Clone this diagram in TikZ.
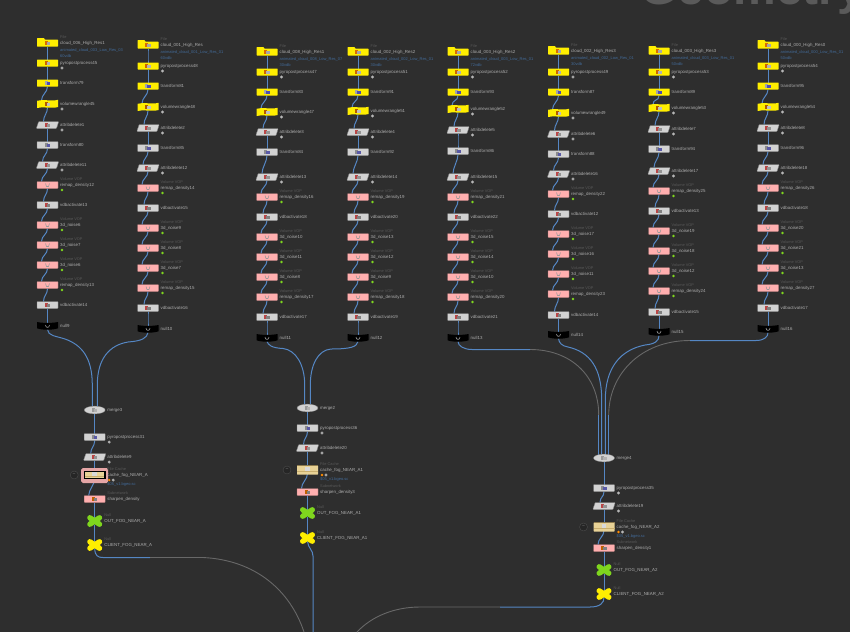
\documentclass[tikz,border=0pt]{standalone}
\usepackage{fontspec}
\setmainfont{Liberation Sans}
\usetikzlibrary{calc}
\catcode`\_=12
\definecolor{bgc}{HTML}{2E2E2E}
\definecolor{wireb}{HTML}{5587C4}
\definecolor{wireg}{HTML}{686868}
\definecolor{yel}{HTML}{FFEE00}
\definecolor{gryn}{HTML}{D2D2D2}
\definecolor{pnk}{HTML}{FFAFAF}
\definecolor{beige}{HTML}{E8D296}
\definecolor{beiged}{HTML}{C9AE6E}
\definecolor{txt}{HTML}{ADADAD}
\definecolor{ttxt}{HTML}{585858}
\definecolor{btxt}{HTML}{426A98}
\definecolor{grn}{HTML}{7FD61E}
\definecolor{ttl}{HTML}{5A5A5A}
\pgfdeclarelayer{bg}
\pgfsetlayers{bg,main}
\tikzset{
  base/.style={inner sep=0pt,outer sep=0pt,minimum width=21pt,minimum height=7pt},
  lab/.style={inner sep=0pt,anchor=west,text=txt,font=\fontsize{4.4}{5}\selectfont},
  tlab/.style={inner sep=0pt,anchor=west,text=ttxt,font=\fontsize{3.9}{5}\selectfont},
  blab/.style={inner sep=0pt,anchor=west,text=btxt,font=\fontsize{4}{5}\selectfont},
  gdot/.style={circle,inner sep=0pt,minimum size=2.6pt,fill=#1},
  wire/.style={draw=wireb,line width=1pt},
  wirefade/.style={draw=wireg,line width=.9pt},
  edge/.style={line width=.4pt,rounded corners=.7pt}
}
\newcommand\ic[2]{\fill[#1] (-2.6,-1.9) rectangle (.4,1.9);\fill[#2] (-.6,-1.2) rectangle (2.6,1.9);}
\newcommand\shfile{\fill[yel,rounded corners=.5pt] (-10.5,-5) -- (-3.5,-5) -- (-2.5,-3.3) -- (10.5,-3.3) -- (10.5,3.5) -- (-10.5,3.5) -- cycle;\ic{orange!85!black}{gray!70}}
\newcommand\shyel{\fill[yel,rounded corners=.5pt] (-10.5,-3.5) rectangle (10.5,3.5);\ic{orange!80!black}{gray!60}}
\newcommand\shtrn{\fill[yel,rounded corners=.5pt] (-10.5,-3.5) rectangle (10.5,3.5);\ic{gray!70}{blue!40!gray}}
\newcommand\shvol{\fill[yel] (-10.5,-3.2) .. controls (-5,-5) and (4,-2.5) .. (10.5,-4.2) -- (10.5,3) .. controls (4,5) and (-5,2.2) .. (-10.5,4) -- cycle;\ic{orange!70!black}{gray!50}}
\newcommand\shgry{\filldraw[fill=gryn,draw=gray,edge] (-10.5,-3.5) rectangle (10.5,3.5);\ic{gray!90}{blue!30!gray}}
\newcommand\shrsl{\filldraw[fill=gryn,draw=gray,edge] (-10.5,-3.5) rectangle (10.5,3.5);\ic{red!45!gray}{gray}}
\newcommand\shatt{\filldraw[fill=gryn,draw=gray,edge] (-8.8,-3.5) -- (11.2,-3.5) -- (9,3.5) -- (-11.2,3.5) -- cycle;\ic{red!45!gray}{gray!85}}
\newcommand\shvop{\filldraw[fill=pnk,draw=pnk!65!black,edge] (-10.5,-3.5) rectangle (10.5,3.5);\draw[gray!80,line width=.6pt] (-2,-1.5) -- (-1,1.5) -- (1,1.5) -- (2,-1.5);}
\newcommand\shsub{\filldraw[fill=pnk,draw=pnk!65!black,edge] (-10.5,-3.5) rectangle (10.5,3.5);\ic{orange!75!black}{gray}}
\newcommand\shnul{\fill[black] (-10.5,-4) .. controls (-5,-2.8) and (5,-2.8) .. (10.5,-4) -- (10.5,2.3) .. controls (5,4.2) and (-5,4.2) .. (-10.5,2.3) -- cycle;\draw[gray!80,line width=.6pt] (-2,-1) .. controls (-2,2.2) and (2,2.2) .. (2,-1);}
\newcommand\shmrg{\filldraw[fill=gryn,draw=gray,line width=.3pt] (0,0) ellipse (10.5 and 3.9);\ic{gray!80}{gray!60}}
\newcommand\shxgr{\draw[grn,line width=5.4pt,line cap=round] (-4.8,-3.2) -- (4.8,3.2) (-4.8,3.2) -- (4.8,-3.2);}
\newcommand\shxyl{\draw[yel,line width=5.4pt,line cap=round] (-4.8,-3.2) -- (4.8,3.2) (-4.8,3.2) -- (4.8,-3.2);}
\newcommand\shcch{\fill[beige,rounded corners=.6pt] (-10.5,-4.6) rectangle (10.5,4.6);\fill[beiged] (-10.5,1.4) rectangle (10.5,2.4);\fill[beiged!70!black] (-10.5,-4.6) rectangle (10.5,-4.1);\fill[gray!30] (-2.4,-3) rectangle (2.4,.8);}
\newcommand\shcsl{\fill[pnk!80!gray,rounded corners=1.6pt] (-13.5,-7) rectangle (13.5,8);\fill[black] (-10.8,-4.4) rectangle (10.8,4.4);\fill[beige] (-9.6,-3.2) rectangle (9.6,3.2);\fill[beiged] (-9.6,1.2) rectangle (9.6,2);\fill[gray!30] (-2.4,-2.6) rectangle (2.4,.6);}
% shape, id, x, y, name, type
\newcommand\NN[7][12.5]{%
  \node[base] (#3) at (#4,#5) {};
  \begin{scope}[shift={(#4,#5)}]\csname sh#2\endcsname\end{scope}
  \node[lab] (#3-n) at (#4+#1,#5) {#6};
  \def\tmpT{#7}\ifx\tmpT\empty\else\node[tlab] (#3-t) at (#4+#1,#5-5.5) {#7};\fi}
\newcommand\GD[1]{\node[circle,draw=gray!70,line width=.5pt,fill=gray!45,inner sep=0pt,minimum size=2.4pt] (#1-d) at ([xshift=14.5pt,yshift=-5pt]#1.center) {};}
\newcommand\GR[1]{\node[gdot=grn] (#1-d) at ([xshift=14.5pt,yshift=-5pt]#1.center) {};}
\newcommand\WW[3]{\begin{pgfonlayer}{bg}\draw[wire] (#1.south) .. controls +(0,6) and ([xshift=#3pt,yshift=6pt]#2.north) .. ([xshift=#3pt]#2.north);\end{pgfonlayer}}
\newcommand\Col[5]{%
  \foreach \yy/\nm [count=\idx] in {#3}{%
    \ifcase\idx\or
      \NN{file}{#1\idx}{#2}{\yy}{\nm}{File}\or
      \NN{yel}{#1\idx}{#2}{\yy}{\nm}{}\GD{#1\idx}\or
      \NN{trn}{#1\idx}{#2}{\yy}{\nm}{}\or
      \NN{vol}{#1\idx}{#2}{\yy}{\nm}{}\GD{#1\idx}\or
      \NN{att}{#1\idx}{#2}{\yy}{\nm}{}\GD{#1\idx}\or
      \NN{gry}{#1\idx}{#2}{\yy}{\nm}{}\or
      \NN{att}{#1\idx}{#2}{\yy}{\nm}{}\GD{#1\idx}\or
      \NN{vop}{#1\idx}{#2}{\yy}{\nm}{Volume VOP}\GR{#1\idx}\or
      \NN{rsl}{#1\idx}{#2}{\yy}{\nm}{}\or
      \NN{vop}{#1\idx}{#2}{\yy}{\nm}{Volume VOP}\GR{#1\idx}\or
      \NN{vop}{#1\idx}{#2}{\yy}{\nm}{Volume VOP}\GR{#1\idx}\or
      \NN{vop}{#1\idx}{#2}{\yy}{\nm}{Volume VOP}\GR{#1\idx}\or
      \NN{vop}{#1\idx}{#2}{\yy}{\nm}{Volume VOP}\GR{#1\idx}\or
      \NN{rsl}{#1\idx}{#2}{\yy}{\nm}{}\or
      \NN{nul}{#1\idx}{#2}{\yy}{\nm}{}\fi
  }
  \node[blab] (#1-b1) at ([xshift=12.5pt,yshift=-7.5pt]#11.center) {#4};
  \node[blab] (#1-b2) at ([xshift=12.5pt,yshift=-13pt]#11.center) {#5};
  \foreach \a/\b/\off in {1/2/0,2/3/0,3/4/-6,4/5/-4,5/6/0,6/7/-5,7/8/-6,8/9/-4,9/10/-6,10/11/-6,11/12/-6,12/13/-6,13/14/-4,14/15/0}{\WW{#1\a}{#1\b}{\off}}
}
\newcommand\Br[9]{% prefix,x,y merge,pyp,att,cache,sub,out,client (y values)
  \NN{mrg}{#1m}{#2}{#3}{\csname nm#1a\endcsname}{}
  \NN{gry}{#1p}{#2}{#4}{\csname nm#1b\endcsname}{}\GD{#1p}
  \NN{att}{#1q}{#2}{#5}{\csname nm#1c\endcsname}{}\GD{#1q}
  \NN{\csname ck#1\endcsname}{#1c}{#2}{#6}{\csname nm#1d\endcsname}{File Cache}
  \NN{sub}{#1s}{#2}{#7}{\csname nm#1e\endcsname}{Subnetwork}
  \NN[9.5]{xgr}{#1o}{#2}{#8}{\csname nm#1f\endcsname}{Null}
  \NN[9.5]{xyl}{#1k}{#2}{#9}{\csname nm#1g\endcsname}{Null}
  \node[circle,fill=orange!90!yellow,inner sep=0pt,minimum size=2.6pt] (#1c-d1) at ([xshift=14.5pt,yshift=-5pt]#1c.center) {};
  \node[circle,draw=gray!70,fill=gray!45,line width=.5pt,inner sep=0pt,minimum size=2.4pt] (#1c-d2) at ([xshift=18.5pt,yshift=-5pt]#1c.center) {};
  \node[blab] (#1c-b) at ([xshift=12.5pt,yshift=-9.5pt]#1c.center) {\$05_v1.bgeo.sc};
  \node[circle,fill=black!85,draw=black!70,inner sep=0pt,minimum size=8pt,text=gray,font=\fontsize{5}{5}\selectfont] (#1c-x) at ([xshift=-20.5pt]#1c.center) {−};
  \WW{#1m}{#1p}{0}\WW{#1p}{#1q}{-4}\WW{#1q}{#1c}{0}\WW{#1c}{#1s}{-6}\WW{#1s}{#1o}{0}\WW{#1o}{#1k}{0}
}
\def\nmxa{merge3}\def\nmxb{pyropostprocess31}\def\nmxc{attribdelete9}\def\nmxd{cache_fog_NEAR_A}\def\nmxe{sharpen_density}\def\nmxf{OUT_FOG_NEAR_A}\def\nmxg{CLIENT_FOG_NEAR_A}\def\ckx{csl}
\def\nmya{merge2}\def\nmyb{pyropostprocess36}\def\nmyc{attribdelete20}\def\nmyd{cache_fog_NEAR_A1}\def\nmye{sharpen_density3}\def\nmyf{OUT_FOG_NEAR_A1}\def\nmyg{CLIENT_FOG_NEAR_A1}\def\cky{cch}
\def\nmza{merge4}\def\nmzb{pyropostprocess35}\def\nmzc{attribdelete19}\def\nmzd{cache_fog_NEAR_A2}\def\nmze{sharpen_density1}\def\nmzf{OUT_FOG_NEAR_A2}\def\nmzg{CLIENT_FOG_NEAR_A2}\def\ckz{cch}
\begin{document}
\begin{tikzpicture}[x=1pt,y=-1pt]
\begin{pgfonlayer}{bg}
\fill[bgc] (0,0) rectangle (850,632);
\end{pgfonlayer}
\path[use as bounding box] (0,0) rectangle (850,632);
\clip (0,0) rectangle (850,632);
\node[inner sep=0pt,anchor=base west,text=ttl,font=\fontsize{48}{48}\selectfont\bfseries] (title) at (640,4) {Geometry};

\Col{a}{47.5}{43/cloud_006_High_Res1,63/pyropostprocess45,83/transform79,104/volumewrangle45,125/attribdelete1,145/transform80,165/attribdelete11,185/remap_density12,205/vdbactivate13,225/3d_noise6,245/3d_noise7,265/3d_noise6,285/remap_density13,305/vdbactivate14,326/null9}{animated_cloud_003_Low_Res_03}{60vdb}
\Col{b}{148}{45/cloud_001_High_Res,66/pyropostprocess48,86/transform81,107/volumewrangle48,128/attribdelete2,148/transform85,168/attribdelete12,188/remap_density14,208/vdbactivate15,228/3d_noise9,248/3d_noise8,268/3d_noise7,288/remap_density15,308/vdbactivate16,329/null10}{animated_cloud_001_Low_Res_01}{60vdb}
\Col{c}{267}{52/cloud_008_High_Res1,72/pyropostprocess47,92/transform83,112/volumewrangle47,132/attribdelete3,152/transform84,177/attribdelete13,197/remap_density16,217/vdbactivate18,237/3d_noise10,257/3d_noise11,277/3d_noise8,297/remap_density17,317/vdbactivate17,338/null11}{animated_cloud_008_Low_Res_07}{30vdb}
\Col{d}{358}{52/cloud_002_High_Res2,72/pyropostprocess51,92/transform91,111/volumewrangle51,132/attribdelete4,152/transform92,177/attribdelete14,197/remap_density19,217/vdbactivate20,237/3d_noise13,257/3d_noise12,277/3d_noise9,297/remap_density18,317/vdbactivate19,338/null12}{animated_cloud_002_Low_Res_01}{30vdb}
\Col{e}{458}{52/cloud_003_High_Res2,72/pyropostprocess52,92/transform93,109/volumewrangle52,130/attribdelete5,151/transform86,177/attribdelete15,197/remap_density21,217/vdbactivate22,237/3d_noise15,257/3d_noise14,277/3d_noise10,297/remap_density20,317/vdbactivate21,338/null13}{animated_cloud_003_Low_Res_01}{72vdb}
\Col{f}{558.5}{51/cloud_002_High_Res3,72/pyropostprocess49,92/transform87,113/volumewrangle49,134/attribdelete6,154/transform88,174/attribdelete16,194/remap_density22,214/vdbactivate12,234/3d_noise17,254/3d_noise16,274/3d_noise11,294/remap_density23,315/vdbactivate14,335/null14}{animated_cloud_002_Low_Res_01}{30vdb}
\Col{g}{659}{51/cloud_003_High_Res3,72/pyropostprocess53,92/transform89,108/volumewrangle53,129/attribdelete7,149/transform94,171/attribdelete17,191/remap_density25,211/vdbactivate13,231/3d_noise19,251/3d_noise18,271/3d_noise12,291/remap_density24,312/vdbactivate15,332/null15}{animated_cloud_003_Low_Res_01}{50vdb}
\Col{h}{768}{45/cloud_000_High_Res0,66/pyropostprocess54,86/transform95,107/volumewrangle54,128/attribdelete8,148/transform96,168/attribdelete18,188/remap_density26,208/vdbactivate18,228/3d_noise20,248/3d_noise21,268/3d_noise13,288/remap_density27,308/vdbactivate17,329/null16}{animated_cloud_000_Low_Res_01}{50vdb}

\Br{x}{94.7}{410}{437}{457}{475}{499}{521}{545}
\Br{y}{307.5}{408}{428}{448}{470}{492}{513}{538}
\Br{z}{604}{458}{488}{506}{527}{548}{570}{594}

\coordinate (j1) at (530,349.5);
\coordinate (j2) at (598.7,415);
\coordinate (j7) at (690,340.5);
\coordinate (j8) at (608.7,415);
\coordinate (k1) at (150,557.5);
\coordinate (k2) at (304,632);
\coordinate (k3) at (313,632);
\coordinate (k4) at (500,607);
\coordinate (k5) at (357,632);
\begin{pgfonlayer}{bg}
\draw[wire] (a15.south) .. controls (48,336) and (56,336) .. (65,339) .. controls (82,345) and (92.3,358) .. (92.3,385) -- ([xshift=-2.4pt]xm.north);
\draw[wire] (b15.south) .. controls (147,338) and (142,341) .. (128,342) .. controls (110,345) and (97.3,358) .. (97.3,385) -- ([xshift=2.6pt]xm.north);
\draw[wire] (c15.south) .. controls (268,345) and (272,348) .. (283,348.5) .. controls (296,350) and (304.7,365) .. (304.7,385) -- ([xshift=-2.8pt]ym.north);
\draw[wire] (d15.south) .. controls (357,347) and (350,349) .. (331,349) .. controls (318,350) and (310.3,365) .. (310.3,385) -- ([xshift=2.8pt]ym.north);
\draw[wirefade] (j1) .. controls (570,349.5) and (598.7,375) .. (j2);
\draw[wirefade] (j7) .. controls (640,340.5) and (608.7,375) .. (j8);
\draw[wire] (e15.south) .. controls (458,346) and (464,349.5) .. (472,349.5) -- (j1);
\draw[wire] (j2) -- ([xshift=-5.3pt]zm.north);
\draw[wire] (f15.south) .. controls (559,343) and (562,346) .. (568,347) .. controls (590,352) and (601.7,368) .. (601.7,400) -- ([xshift=-2.3pt]zm.north);
\draw[wire] (g15.south) .. controls (659,341) and (655,344) .. (645,345) .. controls (620,350) and (605.3,368) .. (605.3,400) -- ([xshift=1.3pt]zm.north);
\draw[wire] (h15.south) .. controls (768,337) and (764,340.5) .. (756,340.5) -- (j7);
\draw[wire] (j8) -- ([xshift=4.7pt]zm.north);
\draw[wire] (xk.south) .. controls (95,556) and (98,557.5) .. (103,557.5) -- (k1);
\draw[wirefade] (k1) -- (203,557.5) .. controls (255,560) and (290,590) .. (k2);
\draw[wire] (yk.south) .. controls (308,548) and (313,550) .. (313,556) -- (k3);
\draw[wire] (zk.south) .. controls (604,603) and (600,607) .. (590,607) -- (k4);
\draw[wirefade] (k4) -- (420,607) .. controls (395,607) and (372,616) .. (k5);
\end{pgfonlayer}
\end{tikzpicture}
\end{document}
